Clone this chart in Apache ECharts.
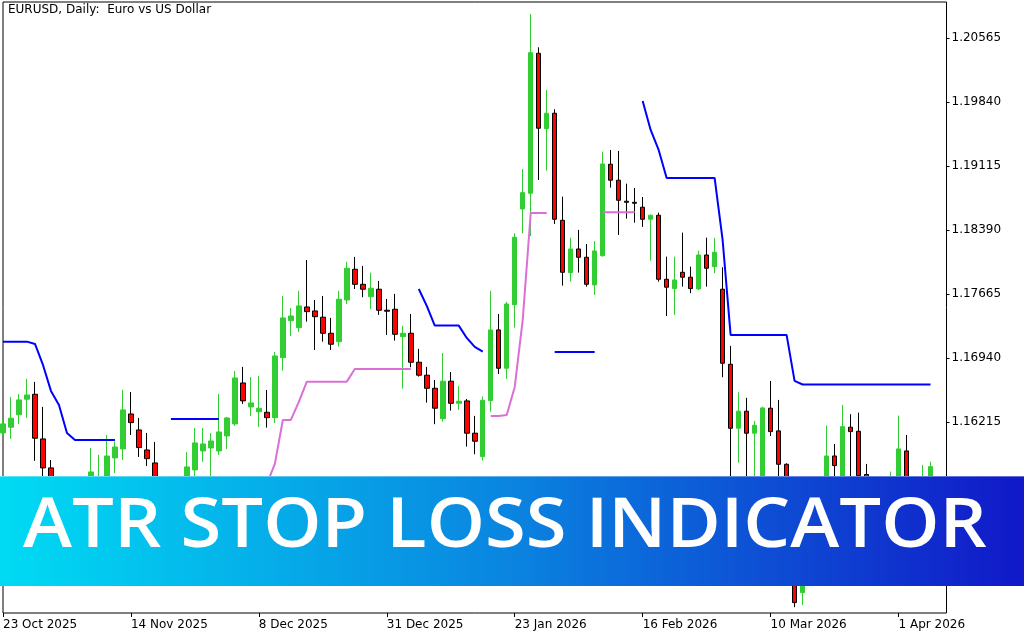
<!DOCTYPE html>
<html><head><meta charset="utf-8">
<script src="https://cdn.jsdelivr.net/npm/echarts@6/dist/echarts.min.js"></script>
<style>html,body{margin:0;padding:0;background:#fff}#c{width:1024px;height:640px}</style>
</head><body><div id="c"></div>
<script>
// ---------- DATA ----------
const dates = [
"23 Oct 2025","24 Oct 2025","27 Oct 2025","28 Oct 2025","29 Oct 2025","30 Oct 2025","31 Oct 2025",
"3 Nov 2025","4 Nov 2025","5 Nov 2025","6 Nov 2025","7 Nov 2025","10 Nov 2025","11 Nov 2025","12 Nov 2025","13 Nov 2025","14 Nov 2025",
"17 Nov 2025","18 Nov 2025","19 Nov 2025","20 Nov 2025","21 Nov 2025","24 Nov 2025","25 Nov 2025","26 Nov 2025","27 Nov 2025","28 Nov 2025",
"1 Dec 2025","2 Dec 2025","3 Dec 2025","4 Dec 2025","5 Dec 2025","8 Dec 2025","9 Dec 2025","10 Dec 2025","11 Dec 2025","12 Dec 2025",
"15 Dec 2025","16 Dec 2025","17 Dec 2025","18 Dec 2025","19 Dec 2025","22 Dec 2025","23 Dec 2025","24 Dec 2025","26 Dec 2025",
"29 Dec 2025","30 Dec 2025","31 Dec 2025","2 Jan 2026","5 Jan 2026","6 Jan 2026","7 Jan 2026","8 Jan 2026","9 Jan 2026",
"12 Jan 2026","13 Jan 2026","14 Jan 2026","15 Jan 2026","16 Jan 2026","19 Jan 2026","20 Jan 2026","21 Jan 2026","22 Jan 2026","23 Jan 2026",
"26 Jan 2026","27 Jan 2026","28 Jan 2026","29 Jan 2026","30 Jan 2026","2 Feb 2026","3 Feb 2026","4 Feb 2026","5 Feb 2026","6 Feb 2026",
"9 Feb 2026","10 Feb 2026","11 Feb 2026","12 Feb 2026","13 Feb 2026","16 Feb 2026","17 Feb 2026","18 Feb 2026","19 Feb 2026","20 Feb 2026",
"23 Feb 2026","24 Feb 2026","25 Feb 2026","26 Feb 2026","27 Feb 2026","2 Mar 2026","3 Mar 2026","4 Mar 2026","5 Mar 2026","6 Mar 2026",
"9 Mar 2026","10 Mar 2026","11 Mar 2026","12 Mar 2026","13 Mar 2026","16 Mar 2026","17 Mar 2026","18 Mar 2026","19 Mar 2026","20 Mar 2026",
"23 Mar 2026","24 Mar 2026","25 Mar 2026","26 Mar 2026","27 Mar 2026","30 Mar 2026","31 Mar 2026","1 Apr 2026","2 Apr 2026","3 Apr 2026",
"6 Apr 2026","7 Apr 2026","",""
];
const open = [
1.16091,1.16156,1.16298,1.16473,1.16529,1.16023,1.15695,1.15360,1.15200,1.14800,
1.14920,1.15500,1.15540,1.15593,1.15808,1.15910,1.16306,1.16125,1.15898,1.15751,
1.15410,1.15280,1.15120,1.15200,1.15672,1.15887,1.15921,1.15887,1.16057,1.16193,
1.16657,1.16386,1.16332,1.16325,1.16264,1.16944,1.17363,1.17284,1.17518,1.17473,
1.17402,1.17220,1.17125,1.17597,1.17945,1.17775,1.17635,1.17719,1.17481,1.17492,
1.17182,1.17220,1.16892,1.16745,1.16597,1.16253,1.16677,1.16427,1.16454,1.16088,
1.15823,1.16457,1.17258,1.16824,1.17544,1.18628,1.18806,1.20392,1.19538,1.19713,
1.18500,1.17907,1.18175,1.18081,1.17768,1.18099,1.19135,1.18954,1.18716,1.18704,
1.18648,1.18512,1.18557,1.17832,1.17726,1.17911,1.17855,1.17722,1.18107,1.17975,
1.17719,1.16869,1.16144,1.16337,1.16088,1.15250,1.16371,1.16114,1.15736,1.14800,
1.14282,1.14700,1.14950,1.15100,1.15830,1.15500,1.16156,1.16110,1.15620,1.15100,
1.15300,1.15200,1.15400,1.15887,1.15450,1.15400,1.15500
];
const close = [
1.16193,1.16258,1.16465,1.16521,1.16031,1.15695,1.15332,1.15200,1.14800,1.14920,
1.15500,1.15649,1.15590,1.15830,1.15932,1.16352,1.16208,1.15925,1.15800,1.15410,
1.15280,1.15120,1.15210,1.15706,1.15978,1.15966,1.16000,1.16102,1.16261,1.16714,
1.16454,1.16431,1.16371,1.16264,1.16963,1.17394,1.17416,1.17530,1.17465,1.17408,
1.17220,1.17096,1.17606,1.17957,1.17775,1.17719,1.17730,1.17481,1.17470,1.17209,
1.17220,1.16892,1.16745,1.16597,1.16371,1.16677,1.16427,1.16450,1.16088,1.15997,
1.16461,1.17258,1.16824,1.17552,1.18308,1.18813,1.20399,1.19543,1.19713,1.18512,
1.17911,1.18175,1.18081,1.17775,1.18153,1.19138,1.18954,1.18727,1.18704,1.18693,
1.18512,1.18557,1.17832,1.17742,1.17824,1.17855,1.17726,1.18107,1.17957,1.18138,
1.16881,1.16144,1.16337,1.16088,1.16178,1.16374,1.16106,1.15736,1.14800,1.14169,
1.14700,1.14950,1.14900,1.15830,1.15721,1.16162,1.16106,1.15607,1.15100,1.15300,
1.15200,1.15450,1.15910,1.15450,1.15500,1.15560,1.15709
];
const low = [
1.16057,1.16023,1.16193,1.16261,1.15774,1.15536,1.15162,1.15130,1.14700,1.14680,
1.14880,1.15420,1.15380,1.15480,1.15638,1.15785,1.16068,1.15819,1.15717,1.15300,
1.15020,1.14910,1.15000,1.15130,1.15600,1.15763,1.15593,1.15842,1.15910,1.16170,
1.16420,1.16284,1.16159,1.16151,1.16204,1.16797,1.17190,1.17235,1.17352,1.17031,
1.17125,1.17031,1.17069,1.17552,1.17722,1.17628,1.17496,1.17428,1.17201,1.17137,
1.16593,1.16835,1.16729,1.16434,1.16190,1.16219,1.16344,1.16352,1.15936,1.15850,
1.15777,1.16332,1.16759,1.16703,1.17284,1.18353,1.18323,1.18957,1.19062,1.18459,
1.17760,1.17805,1.17907,1.17748,1.17654,1.18088,1.18870,1.18334,1.18519,1.18473,
1.18425,1.18043,1.17805,1.17416,1.17428,1.17748,1.17674,1.17711,1.17748,1.17900,
1.16722,1.15500,1.15755,1.15450,1.15500,1.15150,1.16057,1.15400,1.14700,1.14117,
1.14143,1.14600,1.14750,1.15000,1.15450,1.15350,1.15450,1.15300,1.14950,1.14950,
1.15000,1.15050,1.15300,1.15350,1.15300,1.15300,1.15400
];
const high = [
1.16238,1.16499,1.16533,1.16703,1.16669,1.16386,1.15785,1.15420,1.15250,1.15050,
1.15560,1.15921,1.15842,1.16068,1.15995,1.16578,1.16555,1.16261,1.16091,1.15989,
1.15480,1.15380,1.15450,1.15876,1.16148,1.16148,1.16091,1.16533,1.16272,1.16793,
1.16839,1.16725,1.16737,1.16578,1.17009,1.17643,1.17507,1.17700,1.18051,1.17597,
1.17643,1.17394,1.17700,1.18028,1.18085,1.17983,1.17907,1.17813,1.17609,1.17666,
1.17303,1.17439,1.17043,1.16839,1.16691,1.16997,1.16782,1.16623,1.16476,1.16284,
1.16502,1.17700,1.17439,1.17578,1.18353,1.19082,1.20837,1.20460,1.19977,1.19758,
1.18768,1.18303,1.18391,1.18232,1.18266,1.19278,1.19297,1.19286,1.18915,1.18866,
1.18764,1.18566,1.18587,1.18088,1.18088,1.18360,1.17975,1.18156,1.18303,1.18300,
1.17968,1.17077,1.16552,1.16488,1.16227,1.16389,1.16680,1.16465,1.15747,1.14880,
1.14850,1.15100,1.15250,1.16174,1.15966,1.16408,1.16303,1.16321,1.15740,1.15450,
1.15500,1.15653,1.16287,1.16068,1.15550,1.15729,1.15766
];
// ATR stop: upper (short) stop, blue
const stopUpper = [
1.17125,1.17125,1.17125,1.17125,1.17099,1.16861,1.16567,1.16408,1.16091,1.16012,
1.16012,1.16012,1.16012,1.16012,1.16012,null,null,null,null,null,
null,1.16250,1.16250,1.16250,1.16250,1.16250,1.16250,1.16250,null,null,
null,null,null,null,null,null,null,null,null,null,
null,null,null,null,null,null,null,null,null,null,
null,null,1.17722,1.17530,1.17307,1.17307,1.17307,1.17307,1.17167,1.17065,
1.17012,null,null,null,null,null,null,null,null,1.17009,
1.17009,1.17009,1.17009,1.17009,1.17009,null,null,null,null,null,
1.19852,1.19523,1.19297,1.18980,1.18980,1.18980,1.18980,1.18980,1.18980,1.18980,
1.18277,1.17201,1.17201,1.17201,1.17201,1.17201,1.17201,1.17201,1.17201,1.16680,
1.16640,1.16640,1.16640,1.16640,1.16640,1.16640,1.16640,1.16640,1.16640,1.16640,
1.16640,1.16640,1.16640,1.16640,1.16640,1.16640,1.16640
];
// ATR stop: lower (long) stop, orchid
const stopLower = [
null,null,null,null,null,null,null,null,null,null,
null,null,null,null,null,null,null,null,null,null,
null,null,null,null,null,null,null,null,1.14900,1.15000,
1.15100,1.15200,1.15350,1.15513,1.15740,1.16238,1.16238,1.16442,1.16672,1.16672,
1.16672,1.16672,1.16672,1.16672,1.16816,1.16816,1.16816,1.16816,1.16816,1.16816,
1.16816,1.16816,null,null,null,null,null,null,null,null,
null,1.16284,1.16284,1.16295,1.16612,1.17371,1.18583,1.18583,1.18583,null,
null,null,null,null,null,1.18591,1.18591,1.18591,1.18591,1.18591,
null,null,null,null,null,null,null,null,null,null,
null,null,null,null,null,null,null,null,null,null,
null,null,null,null,null,null,null,null,null,null,
null,null,null,null,null,null,null
];
const yTicks = [1.14765,1.15490,1.16215,1.16940,1.17665,1.18390,1.19115,1.19840,1.20565];
const yMin = 1.14051, yMax = 1.20973;
const labelStep = 16;
const chartTitle = "EURUSD, Daily:  Euro vs US Dollar";
const bannerText = "ATR STOP LOSS INDICATOR";

// ---------- CHART ----------
const candles = dates.map((d, i) => i < open.length ? [open[i], close[i], low[i], high[i]] : '-');
const toSeries = arr => dates.map((d, i) => (i < arr.length && arr[i] !== null) ? arr[i] : '-');
const font = 'DejaVu Sans';
const chart = echarts.init(document.getElementById('c'), null, {renderer: 'canvas'});
chart.setOption({
  animation: false,
  backgroundColor: '#ffffff',
  grid: {left: 2.5, right: 77.5, top: 2, bottom: 27, show: true, borderColor: '#000', borderWidth: 1, backgroundColor: '#fff'},
  xAxis: {
    type: 'category', data: dates, boundaryGap: false,
    axisLine: {show: false},
    axisTick: {show: true, length: 4, interval: i => i % labelStep === 0, lineStyle: {color: '#000', width: 1}},
    axisLabel: {interval: i => i % labelStep === 0, align: 'left', margin: 6, color: '#000', fontFamily: font, fontSize: 12},
    splitLine: {show: false}
  },
  yAxis: {
    type: 'value', position: 'right', min: yMin, max: yMax, scale: true,
    axisLine: {show: false}, splitLine: {show: false},
    axisTick: {show: true, length: 3, customValues: yTicks, lineStyle: {color: '#000'}},
    axisLabel: {customValues: yTicks, formatter: v => v.toFixed(5), margin: 5, color: '#000', fontFamily: font, fontSize: 12}
  },
  series: [
    {type: 'candlestick', data: candles, barWidth: 5, z: 2,
     itemStyle: {color: '#32CD32', color0: '#FF0000', borderColor: '#32CD32', borderColor0: '#000000', borderWidth: 1}},
    {type: 'line', data: toSeries(stopUpper), symbol: 'none', showSymbol: false, connectNulls: false, z: 3,
     lineStyle: {color: '#0000FF', width: 2}},
    {type: 'line', data: toSeries(stopLower), symbol: 'none', showSymbol: false, connectNulls: false, z: 3,
     lineStyle: {color: '#DA70D6', width: 2}}
  ],
  graphic: [
    {type: 'text', left: 8, top: 4, z: 50,
     style: {text: chartTitle, fill: '#000', font: '12px "DejaVu Sans"'}},
    {type: 'group', zlevel: 5, z: 100, children: [
      {type: 'rect', zlevel: 5, z: 100, shape: {x: 0, y: 476, width: 1024, height: 110},
       style: {fill: new echarts.graphic.LinearGradient(0, 0, 1, 0, [
         {offset: 0, color: '#00DBF3'}, {offset: 0.5, color: '#0A84E0'}, {offset: 1, color: '#1118C8'}])}},
      {type: 'rect', zlevel: 5, z: 101, shape: {x: 0, y: 476, width: 1024, height: 1}, style: {fill: 'rgba(255,255,255,0.35)'}},
      {type: 'text', zlevel: 5, z: 102, x: 505, y: 528, scaleX: 1.09,
       style: {text: bannerText, fill: '#fff', font: '600 68px "Open Sans"', align: 'center', verticalAlign: 'middle', textAlign: 'center', textVerticalAlign: 'middle'}}
    ]}
  ]
});
</script>
</body></html>
